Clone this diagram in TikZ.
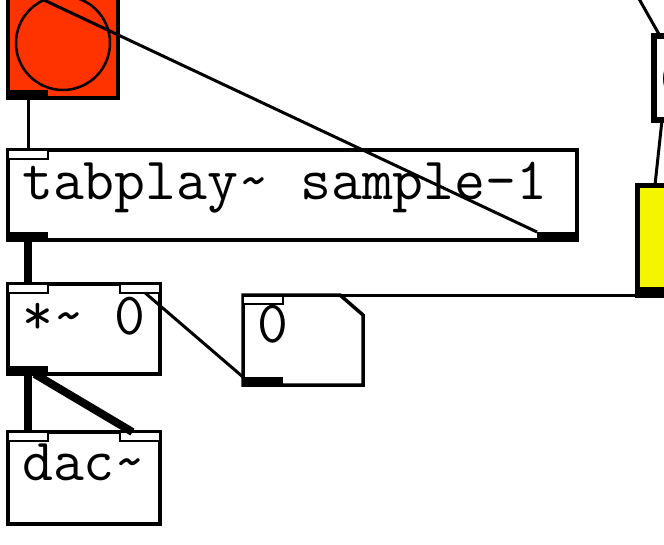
\documentclass[tikz,border=0pt]{standalone}
\usepackage{fontspec}
\definecolor{bangred}{RGB}{255,51,0}
\definecolor{slideryellow}{RGB}{245,245,0}
\tikzset{
  obj/.style={draw, line width=3.5pt, inner sep=0pt, outer sep=0pt, anchor=north west},
  inlet/.style={draw, fill=white, line width=1.5pt, minimum width=40pt, minimum height=9pt, inner sep=0pt, outer sep=0pt},
  outlet/.style={fill=black, minimum width=40pt, minimum height=8pt, inner sep=0pt, outer sep=0pt},
  ctl/.style={line width=3pt},
  sig/.style={line width=8pt},
  txt/.style={anchor=base west, inner sep=0pt, font=\fontsize{60}{60}\selectfont\ttfamily}
}
\begin{document}
\begin{tikzpicture}[x=1pt, y=-1pt]
        \useasboundingbox (0,0) rectangle (664,544);
        \clip (0,0) rectangle (664,544);
        \node[obj, minimum width=110pt, minimum height=110pt, fill=bangred] (bang) at (8,-12) {};
        \draw[line width=2.5pt] (bang.center) circle (47pt);
        \node[obj, minimum width=569pt, minimum height=90pt] (tab) at (8,150) {};
        \node[obj, minimum width=152pt, minimum height=90pt] (mul) at (8,284) {};
        \node[obj, minimum width=152pt, minimum height=92pt] (dac) at (8,432) {};
        \node[obj, draw=none, minimum width=120pt, minimum height=90pt] (num) at (243,295) {};
        \draw[line width=3.5pt] (num.north west) -- ([xshift=-23pt]num.north east) -- ([yshift=-20pt]num.north east) -- (num.south east) -- (num.south west) -- cycle;
        \node[obj, line width=6pt, minimum width=70pt, minimum height=84pt] (trbox) at (654,36) {};
        \node[obj, line width=5pt, fill=slideryellow, minimum width=70pt, minimum height=110pt] (yel) at (637,185) {};
        \coordinate (above) at (634,-10);
        \node[inlet, anchor=north west] (bangI) at (bang.north west) {};
        \node[outlet, anchor=south west] (bangO) at (bang.south west) {};
        \node[inlet, anchor=north west] (tabI) at (tab.north west) {};
        \node[outlet, anchor=south west] (tabL) at (tab.south west) {};
        \node[outlet, anchor=south east] (tabR) at (tab.south east) {};
        \node[inlet, anchor=north west] (mulL) at (mul.north west) {};
        \node[inlet, anchor=north east] (mulR) at (mul.north east) {};
        \node[outlet, anchor=south west] (mulO) at (mul.south west) {};
        \node[inlet, anchor=north west] (dacL) at (dac.north west) {};
        \node[inlet, anchor=north east] (dacR) at (dac.north east) {};
        \node[inlet, anchor=north west] (numI) at (num.north west) {};
        \node[outlet, anchor=south west] (numO) at (num.south west) {};
        \node[outlet, anchor=south west] (yelO) at (yel.south west) {};
        \node[txt] (tabtxt) at (22,199) {tabplay\textasciitilde{} sample-1};
        \node[txt] (multxt) at (22,334) {*\textasciitilde{} 0};
        \node[txt] (numtxt) at (257,342) {0};
        \node[txt] (dactxt) at (22,480) {dac\textasciitilde{}};
        \node[txt] (trtxt) at (660,97) {0};
        \draw[ctl] (bangO) -- (tabI);
        \draw[ctl] (tabR.north west) -- (bangI);
        \draw[sig] (tabL) -- (mulL);
        \draw[sig] (mulO) -- (dacL);
        \draw[sig] (mulO) -- (dacR);
        \draw[ctl] (numO.north west) -- (mulR);
        \draw[ctl] (yelO.south west) -- (numI.north west);
        \draw[ctl] ([xshift=8pt]trbox.south west) -- ([xshift=18pt]yel.north west);
        \draw[ctl] (above) -- ([xshift=6pt]trbox.north west);
      \end{tikzpicture}
\end{document}
